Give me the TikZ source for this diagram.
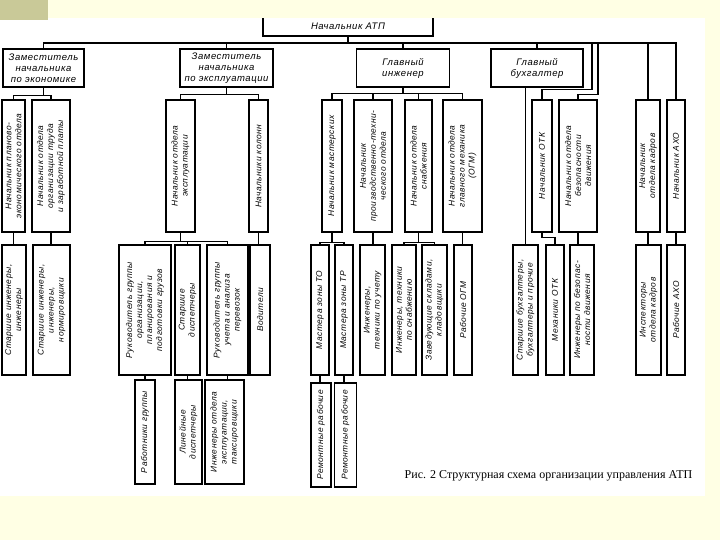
\documentclass[tikz,border=0pt]{standalone}
\usepackage{fontspec}
\setmainfont{Liberation Serif}
\newfontfamily\boxfont[LetterSpace=6.0]{Liberation Sans}
\definecolor{slideCream}{RGB}{255,255,228}
\definecolor{slideKhaki}{RGB}{201,201,152}
\usetikzlibrary{positioning}

\begin{document}
\begin{tikzpicture}[x=1pt, y=-1pt,
    chief/.style={rectangle, draw, line width=1.2pt, inner sep=1pt, align=center, minimum height=38pt, font=\boxfont\itshape\fontsize{9.5}{11}\selectfont},
    post/.style={rectangle, draw, line width=1.2pt, inner sep=1pt, align=center, rotate=90, font=\boxfont\itshape\fontsize{8.4}{10}\selectfont},
    tier2/.style={post, minimum width=132pt, minimum height=#1pt},
    tier3/.style={post, minimum width=130pt, minimum height=#1pt},
    tier4/.style={post, minimum width=104pt, minimum height=#1pt},
    link/.style={line width=1.2pt}
]
    \useasboundingbox (0,0) rectangle (720,540);
    \fill[slideCream] (0,0) rectangle (720,540);
    \fill[white] (0,18) rectangle (705,496);

    % Head
    \node[chief, minimum width=170pt, minimum height=20pt] (atp) at (348,26) {Начальник АТП};
    \coordinate (bus) at (0,43);

    % Deputies
    \node[chief, minimum width=81pt] (zamEcon) at (43.5,68) {Заместитель\\начальника\\по экономике};
    \node[chief, minimum width=93pt] (zamExpl) at (226.5,68) {Заместитель\\начальника\\по эксплуатации};
    \node[chief, minimum width=93pt] (glEng) at (403,68) {Главный\\инженер};
    \node[chief, minimum width=92pt] (glBuh) at (537,68) {Главный\\бухгалтер};

    % Heads of departments
    \node[tier2=23] (nPlan) at (13.5,166) {Начальник планово-\\экономического отдела};
    \node[tier2=38] (nTrud) at (51,166) {Начальник отдела\\организации труда\\и заработной платы};
    \node[tier2=29] (nExpl) at (180.5,166) {Начальник отдела\\эксплуатации};
    \node[tier2=19] (nKol) at (258.5,166) {Начальники колонн};
    \node[tier2=20] (nMast) at (332,166) {Начальник мастерских};
    \node[tier2=38] (nPTO) at (373,166) {Начальник\\производственно-техни-\\ческого отдела};
    \node[tier2=27] (nSnab) at (418.5,166) {Начальник отдела\\снабжения};
    \node[tier2=39] (nOGM) at (462.5,166) {Начальник отдела\\главного механика\\(ОГМ)};
    \node[tier2=20] (nOTK) at (542,166) {Начальник ОТК};
    \node[tier2=38] (nBez) at (578,166) {Начальник отдела\\безопасности\\движения};
    \node[tier2=24] (nKadr) at (648,166) {Начальник\\отдела кадров};
    \node[tier2=18] (nAHO) at (676,166) {Начальник АХО};

    % Staff
    \node[tier3=24] (stIng) at (14,310) {Старшие инженеры,\\инженеры};
    \node[tier3=37] (stNorm) at (51.5,310) {Старшие инженеры,\\инженеры,\\нормировщики};
    \node[tier3=52] (rukOrg) at (145,310) {Руководитель группы\\организации,\\планирования и\\подготовки грузов};
    \node[tier3=25] (stDisp) at (187.5,310) {Старшие\\диспетчеры};
    \node[tier3=41] (rukUch) at (227.5,310) {Руководитель группы\\учета и анализа\\перевозок};
    \node[tier3=20] (vod) at (260,310) {Водители};
    \node[tier3=18] (mTO) at (320,310) {Мастера зоны ТО};
    \node[tier3=18] (mTR) at (344,310) {Мастера зоны ТР};
    \node[tier3=25] (ingUch) at (372.5,310) {Инженеры,\\техники по учету};
    \node[tier3=24] (ingSnab) at (404,310) {Инженеры, техники\\по снабжению};
    \node[tier3=25] (zavSkl) at (434.5,310) {Заведующие складами,\\кладовщики};
    \node[tier3=18] (rabOGM) at (463,310) {Рабочие ОГМ};
    \node[tier3=25] (stBuh) at (525.5,310) {Старшие бухгалтеры,\\бухгалтеры и прочие};
    \node[tier3=18] (mehOTK) at (555,310) {Механики ОТК};
    \node[tier3=24] (ingBez) at (582,310) {Инженеры по безопас-\\ности движения};
    \node[tier3=25] (inspKadr) at (648.5,310) {Инспекторы\\отдела кадров};
    \node[tier3=18] (rabAHO) at (676,310) {Рабочие АХО};

    % Workers
    \node[tier4=20] (rabGr) at (145,432) {Работники группы};
    \node[tier4=27] (linDisp) at (188.5,432) {Линейные\\диспетчеры};
    \node[tier4=39] (ingTaks) at (224.5,432) {Инженеры отдела\\эксплуатации,\\таксировщики};
    \node[tier4=20] (remTO) at (321,435) {Ремонтные рабочие};
    \node[tier4=22] (remTR) at (345.5,435) {Ремонтные рабочие};

    % Connections
    \draw[link] (atp.south) -- (atp.south |- bus);
    \draw[link] (zamEcon.north) |- (nAHO.east |- bus) -- (nAHO.east);
    \foreach \n in {zamExpl, glEng, glBuh}
        \draw[link] (\n.north |- bus) -- (\n.north);
    \draw[link] (nKadr.east |- bus) -- (nKadr.east);
    \draw[link] (nOTK.east) -- ++(0,-10) -- ++(50,0) -- ++(0,-47);
    \draw[link] (nBez.east) -- ++(0,-5) -- ++(20,0) -- ++(0,-52);

    \draw[link] (zamEcon.south) -- ++(0,8) -| (nPlan.east);
    \draw[link] (zamEcon.south) -- ++(0,8) -| (nTrud.east);
    \draw[link] (zamExpl.south) -- ++(0,7) -| (nExpl.east);
    \draw[link] (zamExpl.south) -- ++(0,7) -| (nKol.east);
    \foreach \n in {nMast, nPTO, nSnab, nOGM}
        \draw[link] (glEng.south) -- ++(0,6) -| (\n.east);
    \draw[link] (glBuh.south -| stBuh.east) -- (stBuh.east);

    \foreach \a/\b in {nPlan/stIng, nTrud/stNorm, nKol/vod, nPTO/ingUch, nOGM/rabOGM, nBez/ingBez, nKadr/inspKadr, nAHO/rabAHO}
        \draw[link] (\a.west) -- (\a.west |- \b.east);
    \foreach \n in {rukOrg, stDisp, rukUch}
        \draw[link] (nExpl.west) -- ++(0,9) -| (\n.east);
    \foreach \n in {mTO, mTR}
        \draw[link] (nMast.west) -- ++(0,10) -| (\n.east);
    \foreach \n in {ingSnab, zavSkl}
        \draw[link] (nSnab.west) -- ++(0,10) -| (\n.east);
    \draw[link] (nOTK.west) -- ++(0,5) -| (mehOTK.east);

    \foreach \a/\b in {rukOrg/rabGr, stDisp/linDisp, rukUch/ingTaks, mTO/remTO, mTR/remTR}
        \draw[link] (\a.west) -- (\a.west |- \b.east);

    % Caption
    \node[font=\fontsize{12}{14}\selectfont] (caption) at (548.5,476) {Рис. 2 Структурная схема организации управления АТП};

    % Slide frame
    \fill[slideCream] (0,0) rectangle (720,18);
    \fill[slideKhaki] (0,0) rectangle (48,20);
\end{tikzpicture}
\end{document}
